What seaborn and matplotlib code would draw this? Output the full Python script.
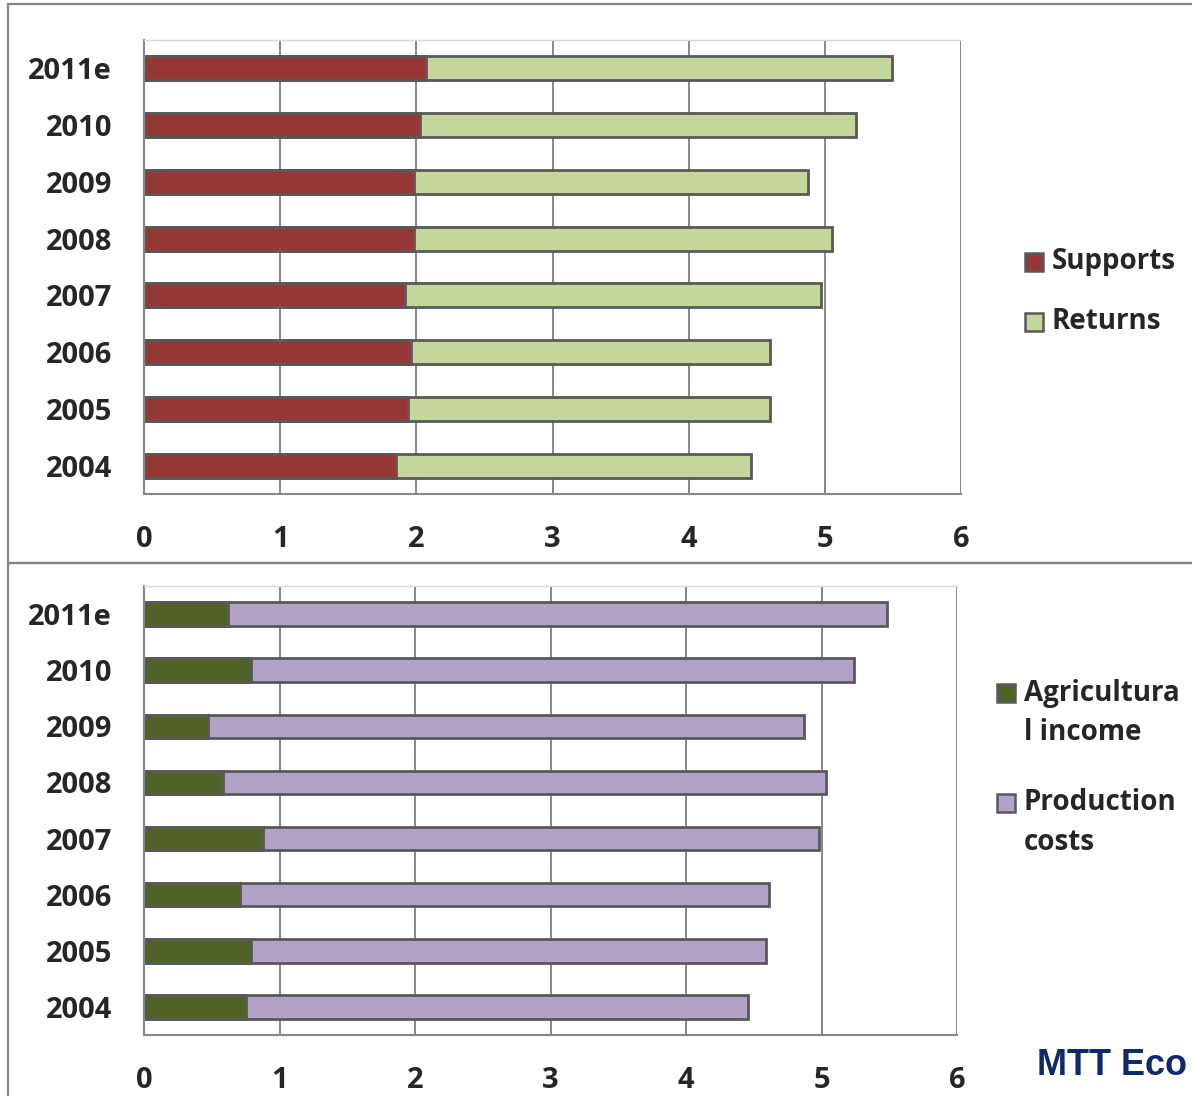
import numpy as np
import pandas as pd
import matplotlib.pyplot as plt
import seaborn as sns
from matplotlib.patches import Rectangle

# --- data ---
years = ["2011e", "2010", "2009", "2008", "2007", "2006", "2005", "2004"]
supports = [2.07, 2.03, 1.98, 1.98, 1.92, 1.96, 1.94, 1.85]
returns = [3.42, 3.20, 2.90, 3.07, 3.05, 2.64, 2.66, 2.61]
agri_income = [0.62, 0.79, 0.47, 0.58, 0.88, 0.71, 0.79, 0.75]
prod_costs = [4.86, 4.45, 4.40, 4.45, 4.10, 3.90, 3.80, 3.71]
x_ticks = [0, 1, 2, 3, 4, 5, 6]

top_labels = ["Supports", "Returns"]
bottom_labels = ["Agricultura\nl income", "Production\ncosts"]

RED, GREEN = "#953735", "#C3D69B"
OLIVE, LILAC = "#4F6228", "#B3A2C7"
EDGE = "#595959"
GRAY = "#868686"
FS = 21
FS_LEG = 20

sns.set_style("white")
plt.rcParams['font.family'] = ['Open Sans', 'DejaVu Sans']

W, H = 1192, 1096
fig = plt.figure(figsize=(W / 100, H / 100), dpi=100)

# panel frames
for y0, y1 in [(4, 563), (563, H + 5)]:
    fig.add_artist(Rectangle((8 / W, 1 - y1 / H), 1.2, (y1 - y0) / H,
                             transform=fig.transFigure, fill=False,
                             edgecolor=GRAY, lw=1.6))


def draw_panel(ax, first, second, c1, c2):
    df = pd.DataFrame({"year": years, "first": first,
                       "total": np.add(first, second)})
    sns.barplot(data=df, y="year", x="total", color=c2, saturation=1,
                edgecolor=EDGE, linewidth=2, width=0.42, errorbar=None,
                orient="h", ax=ax)
    sns.barplot(data=df, y="year", x="first", color=c1, saturation=1,
                edgecolor=EDGE, linewidth=2, width=0.42, errorbar=None,
                orient="h", ax=ax)
    ax.set_xlim(0, 6)
    ax.set_ylim(7.5, -0.5)
    ax.set_xlabel("")
    ax.set_ylabel("")
    ax.set_xticks(x_ticks)
    ax.set_yticks(np.arange(-0.5, 8, 1))
    ax.set_yticklabels([])
    ax.set_yticks(range(len(years)), minor=True)
    ax.set_yticklabels(years, minor=True)
    ax.xaxis.grid(True, color=GRAY, lw=1.4)
    ax.set_axisbelow(True)
    ax.tick_params(axis="y", which="major", length=8, width=1.5,
                   color=GRAY, direction="out")
    ax.tick_params(axis="y", which="minor", length=0, pad=23, labelsize=FS)
    ax.tick_params(axis="x", length=8, width=1.5, color=GRAY,
                   direction="out", pad=14, labelsize=FS)
    for lbl in ax.get_xticklabels() + ax.get_yticklabels(minor=True):
        lbl.set_fontweight("bold")
    for side in ["left", "bottom"]:
        ax.spines[side].set_color(GRAY)
        ax.spines[side].set_linewidth(1.5)
    ax.spines["top"].set_color("#D9D9D9")
    ax.spines["top"].set_linewidth(1.0)
    ax.spines["right"].set_visible(False)


ax1 = fig.add_axes([144 / W, 1 - 494 / H, 817 / W, 454 / H])
draw_panel(ax1, supports, returns, RED, GREEN)

ax2 = fig.add_axes([144 / W, 1 - 1035 / H, 813 / W, 449 / H])
draw_panel(ax2, agri_income, prod_costs, OLIVE, LILAC)


def draw_legend(x, ys, colors, labels):
    for yc, col, lab in zip(ys, colors, labels):
        fig.add_artist(Rectangle((x / W, 1 - (yc + 9) / H), 18 / W, 18 / H,
                                 transform=fig.transFigure, facecolor=col,
                                 edgecolor=EDGE, lw=1.8))
        for i, line in enumerate(lab.split("\n")):
            fig.text((x + 27) / W, 1 - (yc + 40 * i) / H, line,
                     fontsize=FS_LEG, fontweight="bold", va="center")


draw_legend(1025, [262, 322], [RED, GREEN], top_labels)
draw_legend(997, [693, 803], [OLIVE, LILAC], bottom_labels)

fig.text(1037 / W, 1 - 1075 / H, "MTT Eco", color="#0F2A6B",
         family="Liberation Sans", fontweight="bold", fontsize=26,
         va="baseline")

plt.savefig("out.png", dpi=100)
